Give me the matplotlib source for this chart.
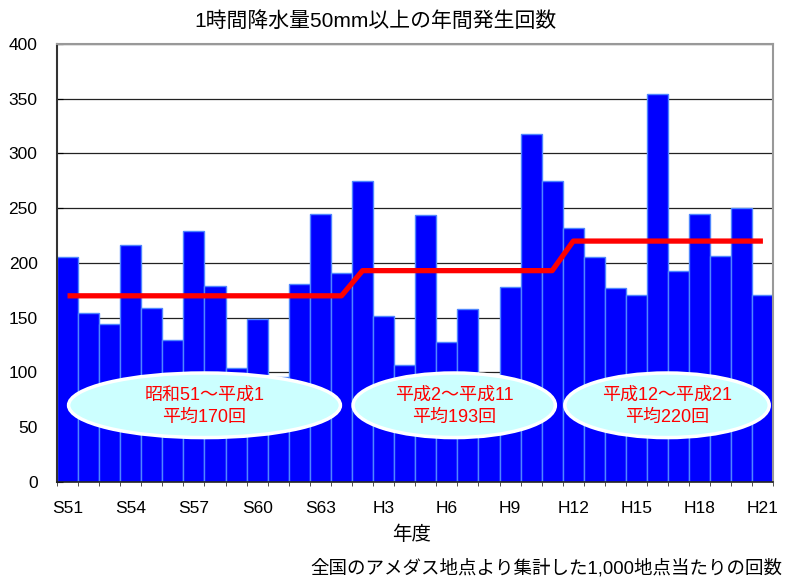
import numpy as np
import matplotlib.pyplot as plt
from matplotlib.patches import Ellipse

plt.rcParams['font.family'] = ['Liberation Sans', 'Noto Sans CJK JP', 'DejaVu Sans']

# 年度 (昭和51年 ～ 平成21年) と 1,000地点当たりの発生回数
years = ['S51', 'S52', 'S53', 'S54', 'S55', 'S56', 'S57', 'S58', 'S59', 'S60',
         'S61', 'S62', 'S63', 'H1', 'H2', 'H3', 'H4', 'H5', 'H6', 'H7',
         'H8', 'H9', 'H10', 'H11', 'H12', 'H13', 'H14', 'H15', 'H16', 'H17',
         'H18', 'H19', 'H20', 'H21']
counts = [205, 154, 144, 216, 159, 130, 229, 179, 104, 149,
          96, 181, 245, 191, 275, 152, 107, 244, 128, 158,
          95, 178, 318, 275, 232, 205, 177, 171, 354, 193,
          245, 206, 250, 171]

# 期間ごとの平均 (開始index, 終了index, 平均値, ラベル)
period_start = [0, 14, 24]
period_end = [13, 23, 33]
period_avg = [170, 193, 220]
period_name = ['昭和51～平成1', '平成2～平成11', '平成12～平成21']

tick_labels = ['S51', 'S54', 'S57', 'S60', 'S63', 'H3', 'H6', 'H9',
               'H12', 'H15', 'H18', 'H21']

x = np.arange(len(years))

fig = plt.figure(figsize=(7.85, 5.8), dpi=100)
ax = fig.add_axes([0.0726, 0.1691, 0.9127, 0.755])

ax.bar(x, counts, width=1.0, color='#0000FF', edgecolor='#4F86FF',
       linewidth=1.0, zorder=2)

# 平均値の階段線
lx, ly = [], []
for s, e, a in zip(period_start, period_end, period_avg):
    lx += [s, e]
    ly += [a, a]
ax.plot(lx, ly, color='#FF0000', linewidth=3.8, solid_capstyle='butt', zorder=4)

# 楕円の注記
ell_cx = [6.5, 18.35, 28.45]
ell_w = [12.9, 9.6, 9.7]
for cx, w, name, a in zip(ell_cx, ell_w, period_name, period_avg):
    ax.add_patch(Ellipse((cx, 70), w, 59, facecolor='#CCFFFF',
                         edgecolor='white', linewidth=2.5, zorder=3))
    ax.text(cx, 69, f'{name}\n平均{a}回', ha='center', va='center',
            color='#FF0000', fontsize=13, linespacing=1.4, zorder=5)

ax.set_xlim(-0.5, len(years) - 0.5)
ax.set_ylim(0, 400)
ax.set_yticks(np.arange(0, 401, 50))
ax.yaxis.grid(True, color='#222222', linewidth=0.9, zorder=0)
ax.set_axisbelow(True)

ax.set_xticks(x[::3])
ax.set_xticklabels(tick_labels, fontsize=12.5)
ax.set_xticks(np.arange(-0.5, len(years)), minor=True)
ax.tick_params(axis='x', which='major', length=0, pad=14)
ax.tick_params(axis='x', which='minor', length=3, direction='out', color='#333333')
ax.tick_params(axis='y', length=4, direction='in', labelsize=12.5, pad=14)

for side in ['top', 'right']:
    ax.spines[side].set_color('#999999')
    ax.spines[side].set_linewidth(1.5)
ax.spines['left'].set_color('#333333')
ax.spines['left'].set_linewidth(1.5)
ax.spines['bottom'].set_color('#222222')
ax.spines['bottom'].set_linewidth(1.2)

fig.text(0.478, 0.963, '1時間降水量50mm以上の年間発生回数', ha='center',
         va='center', fontsize=15)
fig.text(0.524, 0.078, '年度', ha='center', va='center', fontsize=14)
fig.text(0.997, 0.020, '全国のアメダス地点より集計した1,000地点当たりの回数',
         ha='right', va='center', fontsize=13.3)

fig.savefig('out.png', dpi=100)
